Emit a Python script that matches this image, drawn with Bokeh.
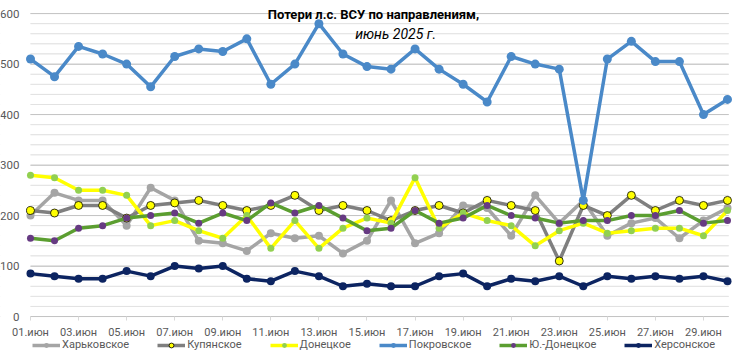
from bokeh.plotting import figure
from bokeh.models import Range1d, FixedTicker, Legend, LegendItem, Label, BoxAnnotation
from bokeh.embed import file_html
from bokeh.resources import INLINE

# ---- data ----
days = list(range(1, 31))
day_labels = ["%02d.июн" % d for d in days]
tick_days = days[::2]

series_names = ["Харьковское", "Купянское", "Донецкое", "Покровское", "Ю.-Донецкое", "Херсонское"]

kharkov = [200, 245, 230, 230, 180, 255, 230, 150, 145, 130, 165, 155, 160, 125, 150,
           230, 145, 165, 220, 215, 160, 240, 185, 230, 160, 185, 195, 155, 190, 215]
kupyansk = [210, 205, 220, 220, 195, 220, 225, 230, 220, 210, 220, 240, 210, 220, 210,
            190, 210, 220, 205, 230, 220, 210, 110, 220, 200, 240, 210, 230, 220, 230]
donetsk = [280, 275, 250, 250, 240, 180, 190, 170, 155, 200, 135, 190, 135, 175, 195,
           185, 275, 175, 205, 190, 180, 140, 170, 185, 165, 170, 175, 175, 160, 210]
pokrovsk = [510, 475, 535, 520, 500, 455, 515, 530, 525, 550, 460, 500, 580, 520, 495,
            490, 530, 490, 460, 425, 515, 500, 490, 230, 510, 545, 505, 505, 400, 430]
yudonetsk = [155, 150, 175, 180, 195, 200, 205, 185, 205, 190, 225, 205, 220, 195, 170,
             175, 210, 185, 195, 220, 200, 195, 185, 190, 190, 200, 200, 210, 185, 190]
kherson = [85, 80, 75, 75, 90, 80, 100, 95, 100, 75, 70, 90, 80, 60, 65,
           60, 60, 80, 85, 60, 75, 70, 80, 60, 80, 75, 80, 75, 80, 70]

y_ticks = [0, 100, 200, 300, 400, 500, 600]
y_minor = list(range(0, 620, 20))
y_minor_only = [v for v in y_minor if v not in y_ticks]

title_1 = "Потери л.с. ВСУ по направлениям,"
title_2 = "июнь 2025 г."

# ---- styles ----
styles = [
    # line color, line width, marker fill, marker outline, marker size
    ("#A5A5A5", 3.5, "#A5A5A5", None, 8),
    ("#7F7F7F", 3.5, "#FFFF00", "#000000", 8),
    ("#FFFF00", 3.5, "#92D050", None, 7),
    ("#4A89C8", 3.5, "#4A89C8", None, 9),
    ("#5B9E30", 3.5, "#663A82", None, 7),
    ("#0C2461", 3.5, "#0C2461", None, 8),
]
all_series = [kharkov, kupyansk, donetsk, pokrovsk, yudonetsk, kherson]

FONT = "Roboto"
X_START, X_END = float(days[0]), days[-1] + 0.05

p = figure(width=742, height=354, output_backend="svg", toolbar_location=None,
           x_range=Range1d(-0.248, 30.624), y_range=Range1d(-75.2, 620),
           min_border_left=0, min_border_right=0, min_border_top=3, min_border_bottom=0)
p.outline_line_color = None
p.background_fill_color = "white"
p.border_fill_color = "white"
p.xgrid.grid_line_color = None

# y axis (inside the frame)
p.yaxis.fixed_location = 0.792
p.yaxis.ticker = FixedTicker(ticks=y_ticks, minor_ticks=y_minor)
p.yaxis.axis_line_color = None
p.yaxis.major_tick_line_color = None
p.yaxis.minor_tick_line_color = None
p.yaxis.major_tick_out = 0
p.yaxis.major_tick_in = 0
p.yaxis.minor_tick_out = 0
p.yaxis.minor_tick_in = 0
p.yaxis.major_label_standoff = 6
p.yaxis.major_label_text_font = FONT
p.yaxis.major_label_text_font_size = "11.5px"
p.yaxis.major_label_text_color = "#595959"
p.ygrid.grid_line_color = "#D9D9D9"
p.ygrid.minor_grid_line_color = "#EFEFEF"

# mask the grid outside the data span (drawn after the grid, below the glyphs)
p.add_layout(BoxAnnotation(right=X_START, fill_color="white", fill_alpha=1.0,
                           line_color=None, level="underlay"))
p.add_layout(BoxAnnotation(left=X_END, fill_color="white", fill_alpha=1.0,
                           line_color=None, level="underlay"))

# grid lines over the data span, drawn as thin lines below the series
p.multi_line(xs=[[X_START, X_END] for _ in y_minor_only], ys=[[v, v] for v in y_minor_only],
             line_color="#E2E2E2", line_width=1)
p.multi_line(xs=[[X_START, X_END] for _ in y_ticks], ys=[[v, v] for v in y_ticks],
             line_color="#C4C4C4", line_width=1)

# x axis (inside the frame, at value 0)
p.xaxis.fixed_location = 0
p.xaxis.ticker = FixedTicker(ticks=tick_days)
p.xaxis.major_label_overrides = {d: day_labels[d - 1] for d in tick_days}
p.xaxis.axis_line_color = None
p.xaxis.major_tick_line_color = "#D9D9D9"
p.xaxis.major_tick_out = 4
p.xaxis.major_tick_in = 0
p.xaxis.minor_tick_line_color = None
p.xaxis.major_label_standoff = 5
p.xaxis.major_label_text_font = FONT
p.xaxis.major_label_text_font_size = "11px"
p.xaxis.major_label_text_color = "#595959"

items = []
for name, vals, st in zip(series_names, all_series, styles):
    lc, lw, mf, mo, ms = st
    lr = p.line(days, vals, line_color=lc, line_width=lw, line_join="round")
    cr = p.scatter(days, vals, size=ms, fill_color=mf,
                   line_color=(mo if mo else mf), line_width=(0.8 if mo else 0))
    items.append(LegendItem(label=name, renderers=[lr, cr]))

legend = Legend(items=items, orientation="horizontal", location=(32, 3),
                border_line_color=None, background_fill_alpha=0,
                padding=0, margin=0, spacing=28, glyph_width=28, glyph_height=12,
                label_standoff=2, label_height=12, label_text_font=FONT,
                label_text_font_size="11px", label_text_color="#595959")
p.add_layout(legend, "center")

p.add_layout(Label(x=15.27, y=598, text=title_1, text_align="center", text_baseline="middle",
                   text_font=FONT, text_font_size="13px", text_font_style="bold",
                   text_color="#000000"))
p.add_layout(Label(x=16.19, y=560, text=title_2, text_align="center", text_baseline="middle",
                   text_font=FONT, text_font_size="14px", text_font_style="italic",
                   text_color="#000000"))

open("out.html", "w").write(file_html(p, INLINE))
